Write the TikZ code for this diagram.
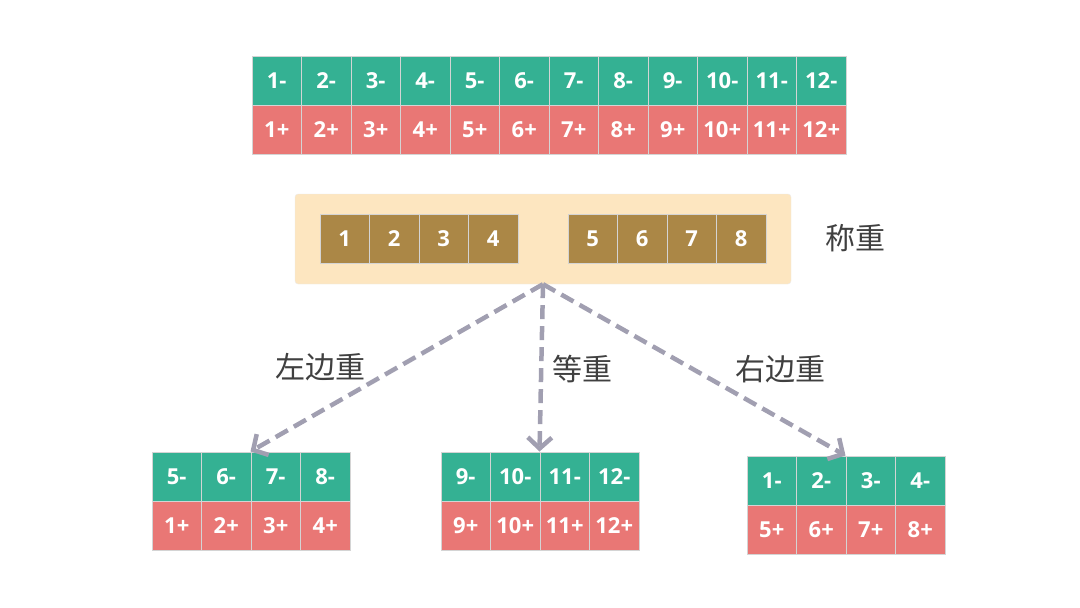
\documentclass[tikz,border=0pt]{standalone}
\usepackage{fontspec}
\setmainfont{Open Sans}
\newfontfamily\cjk{Noto Sans CJK SC}
\usetikzlibrary{arrows.meta,positioning}
\definecolor{cgreen}{HTML}{34B193}
\definecolor{cred}{HTML}{E97775}
\definecolor{cbrown}{HTML}{AB8746}
\definecolor{ccream}{HTML}{FDE6C0}
\definecolor{cgray}{HTML}{A19FB1}
\definecolor{cline}{HTML}{D4D4D4}

\begin{document}
\begin{tikzpicture}[
  x=1pt, y=-1pt,
  cell/.style={draw=cline, line width=1pt, minimum width=49.5pt, minimum height=49pt,
               inner sep=0pt, text=white, font=\fontsize{22}{26}\selectfont\bfseries},
  lighter/.style={cell, fill=cgreen},
  heavier/.style={cell, fill=cred},
  coin/.style={cell, fill=cbrown},
  tag/.style={font=\cjk\fontsize{30}{34}\selectfont, text=black!75},
  arr/.style={-{Straight Barb[length=11pt,width=24pt]}, line width=4.5pt,
              dash pattern=on 14pt off 7pt, cgray}
]
\useasboundingbox (0,0) rectangle (1080,608);

% all twelve balls
\foreach \i in {1,...,12} {
  \node[lighter] (t\i m) at ({252+49.5*(\i-0.5)},80.5) {\i-};
  \node[heavier] (t\i p) at ({252+49.5*(\i-0.5)},129.5) {\i+};
}

% the scale
\node[fill=ccream, draw=black!8, rounded corners=3pt, minimum width=496pt,
      minimum height=90pt] (scale) at (543,239) {};
\foreach \i in {1,...,4}
  \node[coin] (c\i) at ({320+49.5*(\i-0.5)},238.5) {\i};
\foreach \i in {5,...,8}
  \node[coin] (c\i) at ({568+49.5*(\i-4.5)},238.5) {\i};
\node[tag] (weigh) at (855,238) {称重};

% outcomes
\foreach \a/\b [count=\k] in {5/1,6/2,7/3,8/4} {
  \node[lighter] (l\k m) at ({152+49.5*(\k-0.5)},476.5) {\a-};
  \node[heavier] (l\k p) at ({152+49.5*(\k-0.5)},526) {\b+};
}
\foreach \a [count=\k] in {9,10,11,12} {
  \node[lighter] (m\k m) at ({441+49.5*(\k-0.5)},476.5) {\a-};
  \node[heavier] (m\k p) at ({441+49.5*(\k-0.5)},525.5) {\a+};
}
\foreach \a/\b [count=\k] in {1/5,2/6,3/7,4/8} {
  \node[lighter] (r\k m) at ({747+49.5*(\k-0.5)},480.5) {\a-};
  \node[heavier] (r\k p) at ({747+49.5*(\k-0.5)},529.5) {\b+};
}

\draw[arr] (scale.south) -- (l3m.north west);
\draw[arr] (scale.south) -- (m3m.north west);
\draw[arr] (scale.south) -- (r3m.north west);

% arrow labels
\node[tag] (leftheavy) at (320,367) {左边重};
\node[tag] (even) at (582,369) {等重};
\node[tag] (rightheavy) at (780,369) {右边重};
\end{tikzpicture}
\end{document}
